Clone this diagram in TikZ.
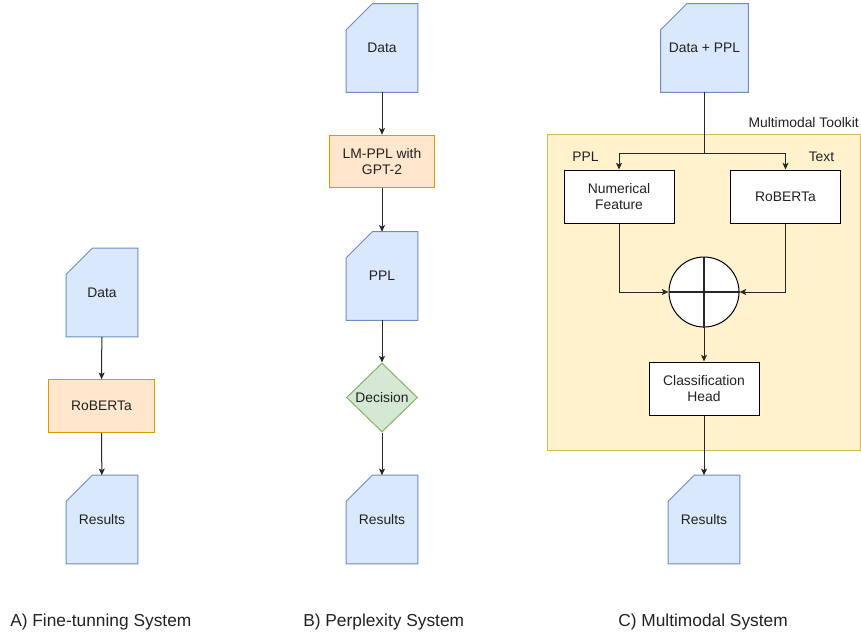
\documentclass[tikz,border=0pt]{standalone}
\usepackage{fontspec}
\setmainfont{Liberation Sans}
\usetikzlibrary{arrows.meta,shapes.geometric,backgrounds}
\definecolor{bfill}{HTML}{DAE8FC}\definecolor{bline}{HTML}{6C8EBF}
\definecolor{ofill}{HTML}{FFE6CC}\definecolor{oline}{HTML}{D79B00}
\definecolor{gfill}{HTML}{D5E8D4}\definecolor{gline}{HTML}{82B366}
\definecolor{yfill}{HTML}{FFF2CC}\definecolor{yline}{HTML}{D6B656}
\definecolor{txt}{HTML}{222222}
\tikzset{
  base/.style={font=\fontsize{10.4}{12.2}\selectfont, text=txt, align=center, inner sep=0pt},
  card/.style={base, minimum width=53.25pt, minimum height=66pt},
  obox/.style={base, draw=oline, fill=ofill, line width=0.75pt, minimum width=79pt, minimum height=39.5pt},
  wbox/.style={base, draw=black, fill=white, line width=0.75pt, minimum width=82.5pt, minimum height=39.75pt},
  dec/.style={base, diamond, aspect=1.03, draw=gline, fill=gfill, line width=0.75pt, minimum width=53.25pt, minimum height=51.75pt},
  cardshape/.style={draw=bline, fill=bfill, line width=0.75pt},
  conn/.style={draw=black!85, line width=0.75pt, -{Stealth[length=5pt,width=4.5pt,inset=1.2pt]}},
  plain/.style={draw=black!85, line width=0.75pt},
  lbl/.style={font=\fontsize{10.4}{12.2}\selectfont, text=txt, inner sep=0pt},
  captxt/.style={font=\fontsize{13}{15}\selectfont, text=txt, inner sep=0pt, anchor=west}
}
\newcommand{\cardbg}[1]{%
  \begin{scope}[on background layer]
  \path[cardshape] (#1.south west) -- (#1.south east) -- (#1.north east)
     -- ([xshift=19.5pt]#1.north west) -- ([yshift=-19.5pt]#1.north west) -- cycle;
  \end{scope}}
\begin{document}
\begin{tikzpicture}[x=0.75pt,y=-0.75pt]
\useasboundingbox (0,0) rectangle (861,635);
% toolkit
\path[fill=yfill, draw=yline, line width=0.75pt] (547,135) rectangle (860.5,450);
\node[lbl, anchor=east] (tkl) at (859,123) {Multimodal Toolkit};
\node[lbl] (pplL) at (585.5,157) {PPL};
\node[lbl] (txtL) at (821.5,157) {Text};

% column A
\node[card] (dA) at (102,292.5) {Data};
\node[obox] (rA) at (101.5,406) {RoBERTa};
\node[card] (resA) at (102,519.5) {Results};
\cardbg{dA}\cardbg{resA}
\draw[conn] (dA) -- (rA);
\draw[conn] (rA) -- (resA);

% column B
\node[card] (dB) at (382,48) {Data};
\node[obox] (lmB) at (382,161.5) {LM-PPL with\\GPT-2};
\node[card] (pplB) at (382,276) {PPL};
\node[dec] (decB) at (382,397.5) {Decision};
\node[card] (resB) at (382,519.5) {Results};
\cardbg{dB}\cardbg{pplB}\cardbg{resB}
\draw[conn] (dB) -- (lmB);
\draw[conn] (lmB) -- (pplB);
\draw[conn] (pplB) -- (decB);
\draw[conn] (decB) -- (resB);

% column C
\node[card, minimum width=65.25pt] (dC) at (704.5,48) {Data + PPL};
\cardbg{dC}
\node[wbox] (nf) at (619,196.5) {Numerical\\Feature};
\node[wbox] (rbC) at (785.5,196.5) {RoBERTa};
\node[circle, draw=black, fill=white, line width=0.75pt, minimum size=52.5pt, inner sep=0pt] (circ) at (704,292) {};
\draw[line width=1.2pt, black!85] (circ.north) -- (circ.south) (circ.west) -- (circ.east);
\node[wbox] (ch) at (704,388.5) {Classification\\Head};
\node[card] (resC) at (704,519.5) {Results};
\cardbg{resC}
\coordinate (br) at (704,153);
\draw[plain] (dC.south -| br) -- (br);
\draw[conn] (br) -| (nf.north);
\draw[conn] (br) -| (rbC.north);
\draw[conn] (nf.south) |- (circ.west);
\draw[conn] (rbC.south) |- (circ.east);
\draw[conn] (circ) -- (ch);
\draw[conn] (ch) -- (resC);

% captions
\node[captxt] (capA) at (10,622.5) {A) Fine-tunning System};
\node[captxt] (capB) at (303,622.5) {B) Perplexity System};
\node[captxt] (capC) at (618,622.5) {C) Multimodal System};
\end{tikzpicture}
\end{document}
